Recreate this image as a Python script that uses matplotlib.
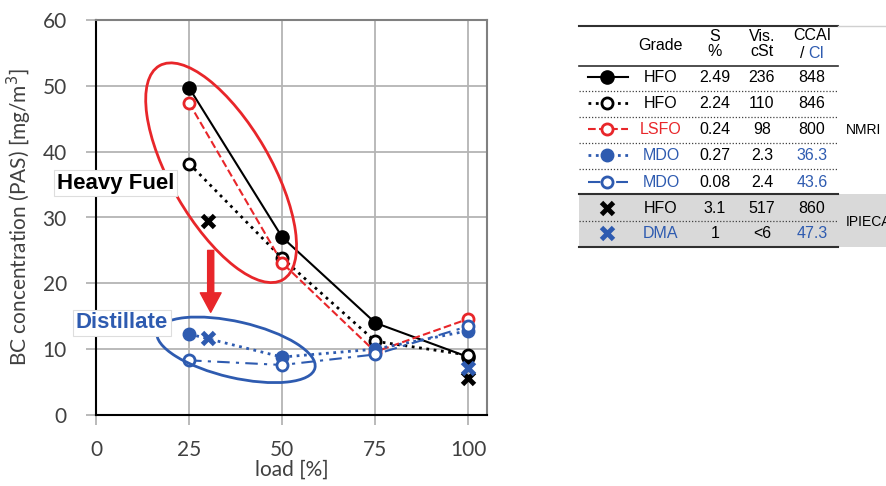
import matplotlib
matplotlib.use("Agg")
import matplotlib.pyplot as plt
import matplotlib.transforms as mtransforms
from matplotlib.patches import Ellipse, Rectangle

# BC concentration (PAS) vs engine load
loads = [25, 50, 75, 100]
hfo_a = [49.7, 27.0, 14.0, 8.8]      # HFO, S 2.49 %
hfo_b = [38.2, 23.8, 11.2, 9.1]      # HFO, S 2.24 %
lsfo = [47.4, 23.1, 9.6, 14.6]       # LSFO
mdo_a = [12.3, 8.8, 10.0, 12.8]      # MDO, S 0.27 %
mdo_b = [8.3, 7.6, 9.2, 13.5]        # MDO, S 0.08 %
ipieca_loads = [30, 100]
ipieca_hfo = [29.4, 5.6]
ipieca_dma = [11.7, 7.1]

# fuel property table
grades = ["HFO", "HFO", "LSFO", "MDO", "MDO", "HFO", "DMA"]
sulfur = ["2.49", "2.24", "0.24", "0.27", "0.08", "3.1", "1"]
viscosity = ["236", "110", "98", "2.3", "2.4", "517", "<6"]
ccai = ["848", "846", "800", "36.3", "43.6", "860", "47.3"]

RED = "#e8262a"
BLUE = "#2e5bb0"
GRID = "#b4b4b4"
TXT = "#404040"

styles = [
    dict(color="black", ls="-", lw=1.5, marker="o", ms=9.5, mfc="black", mec="black"),
    dict(color="black", ls=":", lw=2, marker="o", ms=8, mfc="white", mec="black", mew=2),
    dict(color=RED, ls="--", lw=1.5, marker="o", ms=8, mfc="white", mec=RED, mew=2),
    dict(color=BLUE, ls=":", lw=2, marker="o", ms=9, mfc=BLUE, mec=BLUE),
    dict(color=BLUE, ls=(0, (6, 3, 1.5, 3)), lw=1.5, marker="o", ms=8, mfc="white", mec=BLUE, mew=2),
]
xstyles = [
    dict(ls="none", marker="x", ms=9, mew=3.5, color="black"),
    dict(ls="none", marker="x", ms=9, mew=3.5, color=BLUE),
]

fig = plt.figure(figsize=(8.87, 4.86), dpi=100)
ax = fig.add_axes([96 / 887, 71 / 486, 391 / 887, 395 / 486])

for ys, st in zip([hfo_a, hfo_b, lsfo, mdo_a, mdo_b], styles):
    ax.plot(loads, ys, zorder=3, **st)
ax.plot(ipieca_loads, ipieca_hfo, zorder=4, **xstyles[0])
ax.plot(ipieca_loads, ipieca_dma, zorder=4, **xstyles[1])

ax.set_xlim(0, 105)
ax.set_ylim(0, 60)
ax.set_xticks([0, 25, 50, 75, 100])
ax.set_yticks(range(0, 61, 10))
ax.grid(True, color=GRID, lw=1.3)
ax.set_axisbelow(True)
ax.tick_params(direction="out", length=7, width=1.3, color=GRID,
               labelsize=15, labelcolor=TXT)
ax.tick_params(axis="y", pad=14)
ax.tick_params(axis="x", pad=11)
for lab in ax.get_xticklabels() + ax.get_yticklabels():
    lab.set_fontfamily("Lato")
for side in ["left", "bottom"]:
    ax.spines[side].set_color("black")
    ax.spines[side].set_linewidth(1.5)
for side in ["top", "right"]:
    ax.spines[side].set_color("#808080")
    ax.spines[side].set_linewidth(1.5)
ax.set_xlabel("load [%]", fontsize=15, family="Lato", color=TXT, labelpad=0)
ax.set_ylabel("BC concentration (PAS) [mg/m$^3$]", fontsize=15, family="Lato",
              color=TXT, labelpad=6)

# grouping ellipses, sized in inches around a data-space centre
def ring(cx, cy, w, h, angle, color):
    tr = fig.dpi_scale_trans + mtransforms.ScaledTranslation(cx, cy, ax.transData)
    e = Ellipse((0, 0), w, h, angle=angle, transform=tr, fill=False,
                ec=color, lw=2, clip_on=False, zorder=5)
    ax.add_patch(e)

ring(33.6, 36.8, 2.47, 1.0, -60, RED)
ring(37.6, 9.9, 1.62, 0.56, -13, BLUE)

ax.annotate("", xy=(30.8, 15.6), xytext=(30.8, 25.0),
            arrowprops=dict(arrowstyle="simple,head_width=0.75,head_length=0.7,tail_width=0.22",
                            color=RED, mutation_scale=20, shrinkA=0, shrinkB=0), zorder=5)

box = dict(boxstyle="square,pad=0.12", fc="white", ec="#dddddd", lw=0.8)
ax.text(5.2, 35.2, "Heavy Fuel", fontsize=16, fontweight="bold", color="black",
        family="Liberation Sans", ha="center", va="center", bbox=box, zorder=6, clip_on=False)
ax.text(7.0, 14.0, "Distillate", fontsize=16, fontweight="bold", color=BLUE,
        family="Liberation Sans", ha="center", va="center", bbox=box, zorder=6, clip_on=False)

# property table, laid out in pixel units
tx = fig.add_axes([570 / 887, 236 / 486, 317 / 887, 230 / 486])
tx.set_xlim(570, 887)
tx.set_ylim(250, 20)
tx.axis("off")

tx.add_patch(Rectangle((579, 194), 308, 53, fc="#d9d9d9", ec="none", zorder=0))
tx.plot([579, 838], [26, 26], color="#303030", lw=1.5)
tx.plot([838, 887], [26, 26], color="#d0d0d0", lw=1)
tx.plot([579, 838], [66, 66], color="#303030", lw=1.2)
for y in [91, 117, 143, 169, 221]:
    tx.plot([579, 838], [y, y], color="#404040", lw=0.9, ls=(0, (1, 1.5)))
tx.plot([579, 838], [194, 194], color="#303030", lw=1.5)
tx.plot([579, 838], [247, 247], color="#303030", lw=1.5)

FS = 11.5
tfont = dict(fontsize=FS, family="Liberation Sans", ha="center", va="center")
tx.text(661, 45, "Grade", color="black", **tfont)
tx.text(715, 44, "S\n%", color="black", linespacing=0.95, **tfont)
tx.text(762, 44, "Vis.\ncSt", color="black", linespacing=0.95, **tfont)
tx.text(812, 35, "CCAI", color="black", **tfont)
tx.text(802, 53, "/", color="black", **tfont)
tx.text(808, 53, "CI", color=BLUE, fontsize=FS, family="Liberation Sans",
        ha="left", va="center")

row_y = [77, 103, 129, 155, 182, 208, 233]
grade_col = ["black", "black", RED, BLUE, BLUE, "black", BLUE]
ccai_col = ["black", "black", "black", BLUE, BLUE, "black", BLUE]
all_styles = styles + xstyles
for i, y in enumerate(row_y):
    st = dict(all_styles[i])
    if i < 5:
        tx.plot([588, 607, 628], [y, y, y], markevery=[1], **st)
    else:
        st["ms"] = 8.5
        tx.plot([607], [y], **st)
    tx.text(661, y, grades[i], color=grade_col[i], **tfont)
    tx.text(715, y, sulfur[i], color="black", **tfont)
    tx.text(762, y, viscosity[i], color="black", **tfont)
    tx.text(812, y, ccai[i], color=ccai_col[i], **tfont)

tx.text(846, 130, "NMRI", fontsize=10, family="Liberation Sans", ha="left", va="center")
tx.text(846, 222, "IPIECA", fontsize=10, family="Liberation Sans", ha="left",
        va="center", clip_on=True)

fig.savefig("out.png", dpi=100)
